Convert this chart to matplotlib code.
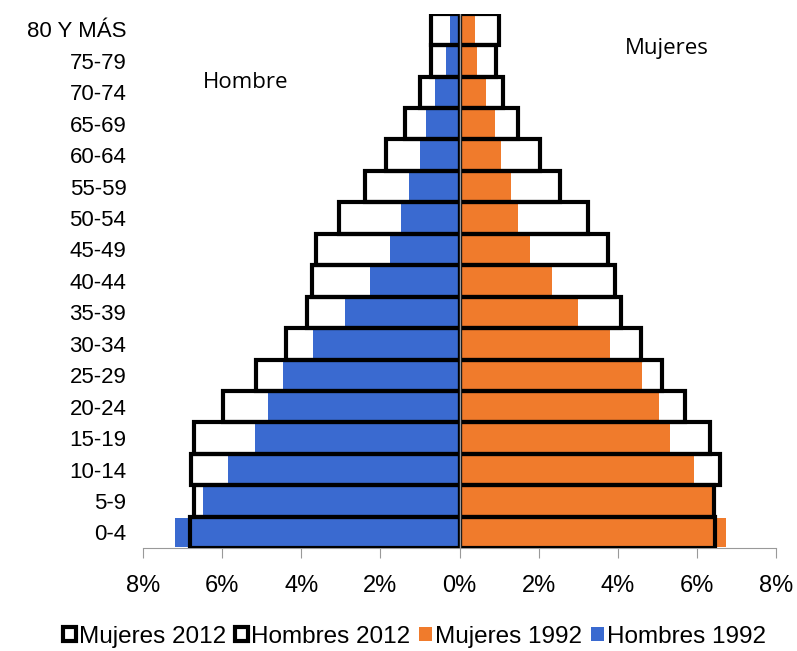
import matplotlib.pyplot as plt
from matplotlib.patches import Patch

# datos (porcentaje de la población)
grupos = ['0-4', '5-9', '10-14', '15-19', '20-24', '25-29', '30-34', '35-39',
          '40-44', '45-49', '50-54', '55-59', '60-64', '65-69', '70-74',
          '75-79', '80 Y MÁS']
hombres_2012 = [6.80, 6.70, 6.78, 6.70, 5.97, 5.14, 4.38, 3.85,
                3.72, 3.62, 3.04, 2.40, 1.87, 1.37, 0.99, 0.73, 0.73]
mujeres_2012 = [6.45, 6.43, 6.58, 6.33, 5.70, 5.11, 4.58, 4.08,
                3.92, 3.75, 3.24, 2.53, 2.03, 1.47, 1.11, 0.91, 0.99]
hombres_1992 = [7.19, 6.48, 5.85, 5.16, 4.84, 4.46, 3.70, 2.89,
                2.25, 1.75, 1.47, 1.27, 1.01, 0.84, 0.61, 0.35, 0.25]
mujeres_1992 = [6.73, 6.42, 5.92, 5.32, 5.04, 4.61, 3.80, 2.99,
                2.35, 1.77, 1.49, 1.29, 1.04, 0.89, 0.66, 0.43, 0.40]
ticks_x = [-8, -6, -4, -2, 0, 2, 4, 6, 8]

azul = '#3a6ad0'
naranja = '#f07b2c'

plt.rcParams['font.family'] = ['Liberation Sans', 'DejaVu Sans']

fig = plt.figure(figsize=(7.97, 6.51), dpi=100)
ax = fig.add_axes([0.1794, 0.158, 0.7943, 0.821])

y = range(len(grupos))
neg_h12 = [-v for v in hombres_2012]
neg_h92 = [-v for v in hombres_1992]

# relleno blanco 2012 (fondo)
ax.barh(y, neg_h12, height=1.0, color='white', zorder=1)
ax.barh(y, mujeres_2012, height=1.0, color='white', zorder=1)
# barras 1992
ax.barh(y, neg_h92, height=0.92, color=azul, zorder=2)
ax.barh(y, mujeres_1992, height=0.92, color=naranja, zorder=2)
# bordes negros 2012 encima
ax.barh(y, neg_h12, height=1.0, fill=False, edgecolor='black', linewidth=3, zorder=3)
ax.barh(y, mujeres_2012, height=1.0, fill=False, edgecolor='black', linewidth=3, zorder=3)

ax.axvline(0, color='#999999', linewidth=1, zorder=4)

ax.set_xlim(-8, 8)
ax.set_ylim(-0.5, len(grupos) - 0.5)
ax.set_xticks(ticks_x)
ax.set_xticklabels([f'{abs(t)}%' for t in ticks_x], fontsize=17)
ax.set_yticks(list(y))
ax.set_yticklabels(grupos, fontsize=16)
ax.tick_params(axis='y', length=0, pad=12)
ax.tick_params(axis='x', direction='out', length=7, color='#999999', pad=12)

for s in ['top', 'right', 'left']:
    ax.spines[s].set_visible(False)
ax.spines['bottom'].set_color('#999999')

ax.text(-5.4, 14.3, 'Hombre', fontsize=16, family='Open Sans', ha='center', va='center')
ax.text(5.25, 15.4, 'Mujeres', fontsize=16, family='Open Sans', ha='center', va='center')

handles = [Patch(facecolor='white', edgecolor='black', linewidth=3, label='Mujeres 2012'),
           Patch(facecolor='white', edgecolor='black', linewidth=3, label='Hombres 2012'),
           Patch(facecolor=naranja, label='Mujeres 1992'),
           Patch(facecolor=azul, label='Hombres 1992')]
fig.legend(handles=handles, loc='center', bbox_to_anchor=(0.52, 0.022), ncol=4,
           frameon=False, fontsize=17.5, handlelength=0.55, handleheight=0.55,
           handletextpad=0.12, columnspacing=0.35)

plt.savefig('out.png', dpi=100)
